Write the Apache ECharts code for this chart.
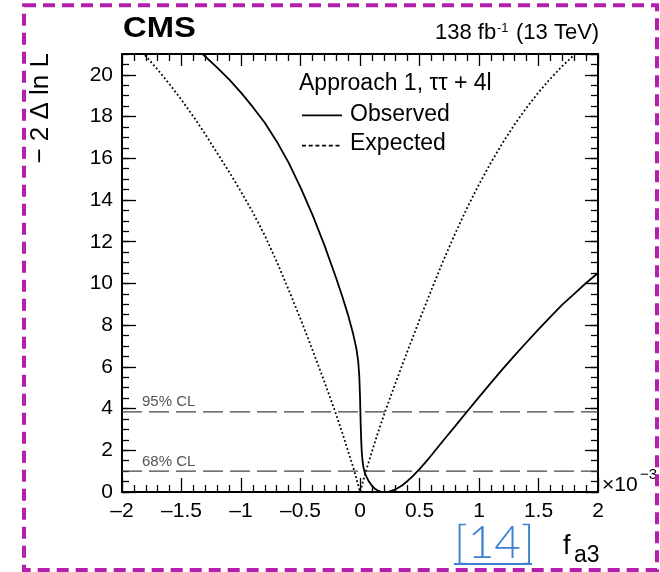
<!DOCTYPE html>
<html><head><meta charset="utf-8">
<script src="https://cdn.jsdelivr.net/npm/echarts@6/dist/echarts.min.js"></script>
<style>html,body{margin:0;padding:0;background:#fff}#c{width:660px;height:572px}</style>
</head><body><div id="c"></div>
<script>
// ---- data (x in units of 1e-3) ----
const obsX = [-1.4, -1.3, -1.2, -1.1, -1.0, -0.9, -0.8, -0.7, -0.6, -0.5, -0.4, -0.3, -0.2, -0.15, -0.1, -0.06, -0.03, -0.015, -0.006, 0.0, 0.003, 0.006, 0.01, 0.015, 0.022, 0.03, 0.04, 0.055, 0.075, 0.1, 0.125, 0.15, 0.175, 0.2, 0.225, 0.25, 0.3, 0.35, 0.4, 0.45, 0.5, 0.55, 0.6, 0.7, 0.8, 0.9, 1.0, 1.1, 1.2, 1.3, 1.4, 1.5, 1.6, 1.7, 1.8, 1.9, 2.0];
const obsY = [21.38, 20.88, 20.35, 19.78, 19.15, 18.45, 17.7, 16.81, 15.79, 14.61, 13.3, 11.85, 10.25, 9.4, 8.48, 7.64, 6.86, 6.26, 5.55, 4.6, 3.9, 3.2, 2.5, 1.9, 1.45, 1.15, 0.93, 0.72, 0.5, 0.3, 0.16, 0.07, 0.02, 0.0, 0.01, 0.035, 0.13, 0.3, 0.53, 0.8, 1.1, 1.42, 1.76, 2.47, 3.16, 3.86, 4.55, 5.23, 5.9, 6.55, 7.18, 7.8, 8.4, 8.98, 9.5, 10.02, 10.5];
const expX = [-1.9, -1.8, -1.7, -1.6, -1.5, -1.4, -1.3, -1.2, -1.1, -1.0, -0.9, -0.8, -0.7, -0.6, -0.5, -0.4, -0.3, -0.21, -0.15, -0.1, -0.05, 0, 0.05, 0.1, 0.15, 0.21, 0.3, 0.4, 0.5, 0.6, 0.7, 0.8, 0.9, 1.0, 1.1, 1.2, 1.3, 1.4, 1.5, 1.6, 1.7, 1.8, 1.9];
const expY = [21.55, 20.9, 20.25, 19.55, 18.8, 18.0, 17.15, 16.25, 15.35, 14.4, 13.4, 12.3, 11.05, 9.7, 8.3, 6.82, 5.3, 3.88, 2.85, 1.95, 1.05, 0, 1.0, 1.93, 2.83, 3.84, 5.25, 6.77, 8.25, 9.69, 11.09, 12.4, 13.62, 14.75, 15.79, 16.75, 17.63, 18.43, 19.16, 19.82, 20.42, 20.96, 21.45];
const clLevels = [1, 3.84];
const clLabels = ['68% CL', '95% CL'];
const xRange = [-2, 2];
const yRange = [0, 21];
const seriesNames = ['Observed', 'Expected'];

const F = '"Liberation Sans", Arial, Helvetica, sans-serif';
const zip = (a, b) => a.map((v, i) => [v, b[i]]);
const fmtX = v => (v < 0 ? '\u2013' + Math.abs(v) : String(v));

const tickStyle = {color: '#000', width: 1.3};
const lineStyleAxis = {onZero: false, lineStyle: {color: '#000', width: 2}};
const obsStyle = {color: '#000', width: 1.8, type: 'solid'};
const expStyle = {color: '#000', width: 1.8, type: [1.8, 2.4]};

const chart = echarts.init(document.getElementById('c'), null, {renderer: 'canvas'});
const option = {
  animation: false,
  backgroundColor: '#fff',
  grid: {left: 122, top: 54, width: 476, height: 438},
  xAxis: [
    {type: 'value', min: xRange[0], max: xRange[1], interval: 0.5, position: 'bottom',
     axisLine: lineStyleAxis, splitLine: {show: false},
     axisTick: {inside: true, length: 14, lineStyle: tickStyle},
     minorTick: {show: true, splitNumber: 5, length: 7, lineStyle: tickStyle},
     axisLabel: {fontSize: 21, color: '#000', fontFamily: F, margin: 9, formatter: fmtX}},
    {type: 'value', min: xRange[0], max: xRange[1], interval: 0.5, position: 'top',
     axisLine: lineStyleAxis, splitLine: {show: false},
     axisTick: {inside: true, length: 12, lineStyle: tickStyle},
     minorTick: {show: true, splitNumber: 5, length: 7, lineStyle: tickStyle},
     axisLabel: {show: false}}
  ],
  yAxis: [
    {type: 'value', min: yRange[0], max: yRange[1], interval: 2, position: 'left',
     axisLine: lineStyleAxis, splitLine: {show: false},
     axisTick: {inside: true, length: 14, lineStyle: tickStyle},
     axisLabel: {fontSize: 21, color: '#000', fontFamily: F, margin: 9, showMaxLabel: false}},
    {type: 'value', min: yRange[0], max: yRange[1], interval: 0.5, position: 'left',
     axisLine: {show: false, onZero: false}, splitLine: {show: false},
     axisTick: {inside: true, length: 7, lineStyle: tickStyle}, axisLabel: {show: false}},
    {type: 'value', min: yRange[0], max: yRange[1], interval: 2, position: 'right',
     axisLine: lineStyleAxis, splitLine: {show: false},
     axisTick: {inside: true, length: 13, lineStyle: tickStyle}, axisLabel: {show: false}},
    {type: 'value', min: yRange[0], max: yRange[1], interval: 0.5, position: 'right',
     axisLine: {show: false, onZero: false}, splitLine: {show: false},
     axisTick: {inside: true, length: 7, lineStyle: tickStyle}, axisLabel: {show: false}}
  ],
  series: [
    ...clLevels.map(l => ({
      type: 'line', name: 'cl' + l, data: [[xRange[0], l], [xRange[1], l]],
      symbol: 'none', silent: true,
      lineStyle: {color: '#444', width: 1.3, type: [20, 7]}
    })),
    {type: 'line', name: seriesNames[0], data: zip(obsX, obsY), symbol: 'none', smooth: false,
     clip: true, lineStyle: obsStyle},
    {type: 'line', name: seriesNames[1], data: zip(expX, expY), symbol: 'none', smooth: false,
     clip: true, lineStyle: expStyle}
  ],
  graphic: [
    {type: 'rect', shape: {x: 24, y: 5.3, width: 633, height: 564.7}, z: 100,
     style: {fill: 'none', stroke: '#b41fae', lineWidth: 4, lineDash: [12, 7]}},
    {type: 'text', x: 123, y: 29, scaleX: 1.13, style: {text: 'CMS', fontSize: 29, fontWeight: 'bold', fontFamily: F, fill: '#000', align: 'left', verticalAlign: 'middle'}},
    {type: 'text', x: 435, y: 33, style: {text: '138 fb', fontSize: 22, fontFamily: F, fill: '#000', align: 'left', verticalAlign: 'middle'}},
    {type: 'text', x: 497, y: 28.5, style: {text: '-1', fontSize: 13, fontFamily: F, fill: '#000', align: 'left', verticalAlign: 'middle'}},
    {type: 'text', x: 516, y: 33, style: {text: '(13 TeV)', fontSize: 22, fontFamily: F, fill: '#000', align: 'left', verticalAlign: 'middle'}},
    {type: 'text', x: 299, y: 83.3, style: {text: 'Approach 1, \u03c4\u03c4 + 4l', fontSize: 23, fontFamily: F, fill: '#000', align: 'left', verticalAlign: 'middle'}},
    // legend
    {type: 'line', shape: {x1: 302, y1: 115.3, x2: 342, y2: 115.3}, style: {stroke: '#000', lineWidth: 1.8}},
    {type: 'line', shape: {x1: 302, y1: 145.7, x2: 342, y2: 145.7}, style: {stroke: '#000', lineWidth: 1.8, lineDash: [4, 2.7]}},
    {type: 'text', x: 350, y: 114.5, style: {text: seriesNames[0], fontSize: 23, fontFamily: F, fill: '#000', align: 'left', verticalAlign: 'middle'}},
    {type: 'text', x: 350, y: 144, style: {text: seriesNames[1], fontSize: 23, fontFamily: F, fill: '#000', align: 'left', verticalAlign: 'middle'}},
    // axis titles and annotations
    {type: 'text', x: 41, y: 53, rotation: Math.PI / 2, style: {text: '\u2212 2 \u0394 ln L', fontSize: 26, fontFamily: F, fill: '#000', align: 'right', verticalAlign: 'middle'}},
    {type: 'text', x: 142, y: 462, style: {text: clLabels[0], fontSize: 15, fontFamily: F, fill: '#555', align: 'left', verticalAlign: 'middle'}},
    {type: 'text', x: 142, y: 402, style: {text: clLabels[1], fontSize: 15, fontFamily: F, fill: '#555', align: 'left', verticalAlign: 'middle'}},
    {type: 'text', x: 602, y: 485, style: {text: '\u00d710', fontSize: 21, fontFamily: F, fill: '#000', align: 'left', verticalAlign: 'middle'}},
    {type: 'text', x: 640, y: 475, style: {text: '\u22123', fontSize: 15, fontFamily: F, fill: '#000', align: 'left', verticalAlign: 'middle'}},
    {type: 'text', x: 454, y: 543, style: {text: '[14]', fontSize: 46, fontWeight: 300, fontFamily: 'Lato, "Open Sans", sans-serif', fill: '#3c7fd4', align: 'left', verticalAlign: 'middle'}},
    {type: 'line', shape: {x1: 454, y1: 564, x2: 532, y2: 564}, style: {stroke: '#3c7fd4', lineWidth: 2}},
    {type: 'text', x: 563, y: 547, style: {text: 'f', fontSize: 27, fontFamily: F, fill: '#000', align: 'left', verticalAlign: 'middle'}},
    {type: 'text', x: 574, y: 556, style: {text: 'a3', fontSize: 23, fontFamily: F, fill: '#000', align: 'left', verticalAlign: 'middle'}}
  ]
};
chart.setOption(option);
</script></body></html>
